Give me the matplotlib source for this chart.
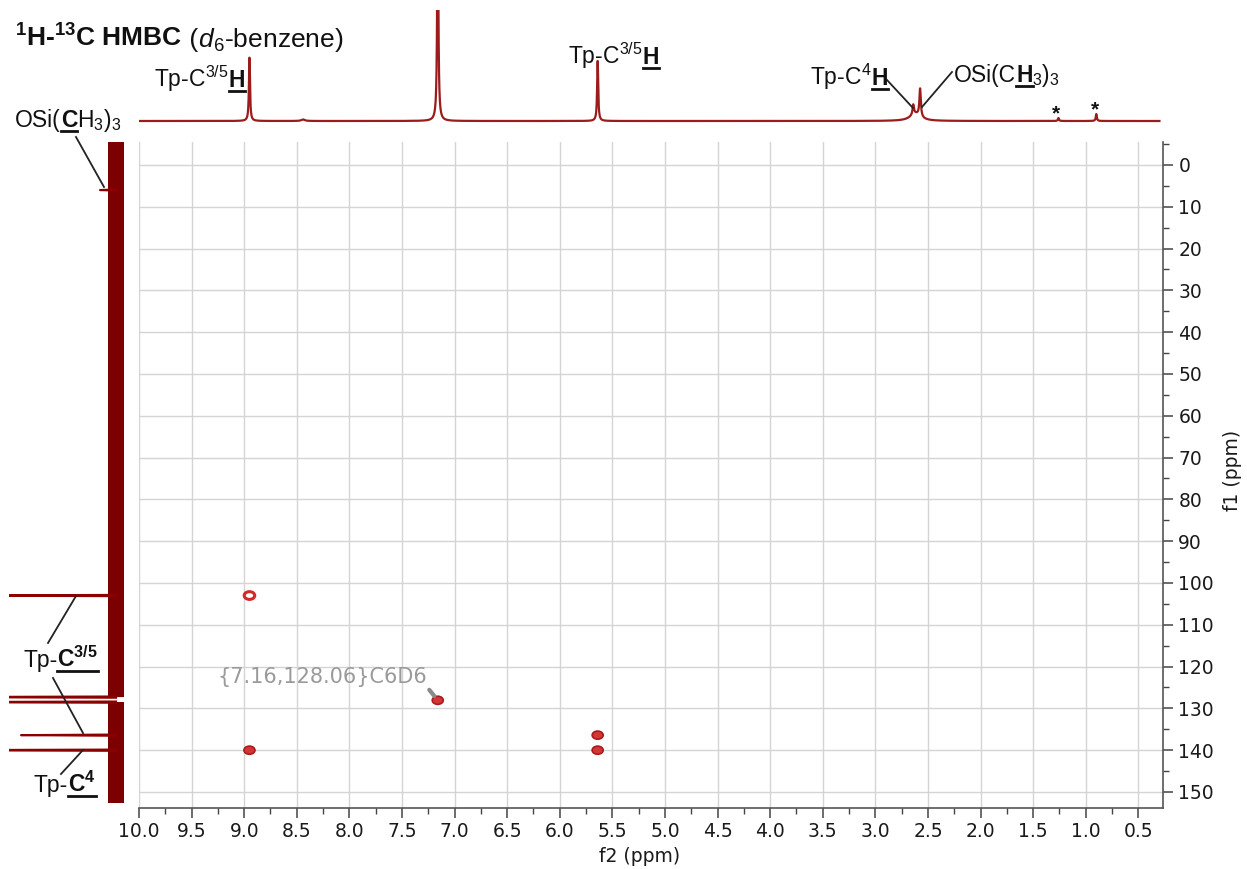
import numpy as np
import matplotlib
matplotlib.use('Agg')
import matplotlib.pyplot as plt
from matplotlib.lines import Line2D
from matplotlib.patches import Ellipse
from matplotlib.ticker import MultipleLocator, FormatStrFormatter

plt.rcParams['mathtext.default'] = 'regular'

W, H = 1247, 869

# 1H projection (top): peak position (ppm), height, half width (ppm)
h_ppm = [8.95, 8.44, 7.16, 5.64, 2.62, 2.64, 2.575, 1.26, 0.90]
h_height = [64, 1.5, 250, 61, 7, 10, 28, 3, 7]
h_width = [0.006, 0.02, 0.006, 0.006, 0.06, 0.008, 0.008, 0.006, 0.006]

# 13C projection (left): peak position (ppm), height
c_ppm = [6.0, 103.0, 127.3, 128.5, 136.4, 140.0]
c_height = [16, 200, 200, 200, 95, 200]

# HMBC cross peaks
cross_f2 = [8.95, 7.16, 5.64, 5.64, 8.95]
cross_f1 = [103.0, 128.06, 136.4, 140.0, 140.0]
cross_open = [True, False, False, False, False]

x_ticks_step = 0.5
y_ticks_step = 10

fig = plt.figure(figsize=(W / 100, H / 100), dpi=100)


def fx(x):
    return x / W


def fy(y):
    return 1 - y / H


# main 2D panel
ax = fig.add_axes([fx(139), fy(808), fx(1163) - fx(139), fy(142) - fy(808)])
ax.set_xlim(10.0, 0.266)
ax.set_ylim(153.83, -5.5)
ax.xaxis.set_major_locator(MultipleLocator(x_ticks_step))
ax.xaxis.set_minor_locator(MultipleLocator(x_ticks_step / 2))
ax.xaxis.set_major_formatter(FormatStrFormatter('%.1f'))
ax.yaxis.set_major_locator(MultipleLocator(y_ticks_step))
ax.yaxis.set_minor_locator(MultipleLocator(y_ticks_step / 2))
ax.yaxis.tick_right()
ax.tick_params(which='both', direction='out', color='#444444', labelsize=13.5, labelcolor='#1a1a1a')
ax.tick_params(which='major', length=7, width=1.1)
ax.tick_params(which='minor', length=4, width=1.0)
ax.tick_params(axis='x', pad=3)
ax.tick_params(axis='y', pad=4)
for s in ['top', 'left']:
    ax.spines[s].set_visible(False)
for s in ['right', 'bottom']:
    ax.spines[s].set_color('#555555')
    ax.spines[s].set_linewidth(1.2)
ax.set_axisbelow(True)
ax.grid(True, which='major', color='#d4d4d4', lw=1)

for f2, f1, op in zip(cross_f2, cross_f1, cross_open):
    if op:
        e = Ellipse((f2, f1), 0.1, 1.85, facecolor='white', edgecolor='#d02a2a', lw=2.2)
    else:
        e = Ellipse((f2, f1), 0.105, 1.95, facecolor='#d43535', edgecolor='#a81c1c', lw=1.2)
    ax.add_patch(e)

ax.annotate('{7.16,128.06}C6D6', xy=(cross_f2[1], cross_f1[1]), xytext=(7.262, 122.5),
            ha='right', va='center', fontsize=15, color='#9a9a9a',
            arrowprops=dict(arrowstyle='-', color='#8a8a8a', lw=3, relpos=(1, 0),
                            shrinkA=0, shrinkB=4))

fig.text(fx(640), fy(857), 'f2 (ppm)', ha='center', va='center', fontsize=13.5, color='#1a1a1a')
fig.text(fx(1233), fy(470), 'f1 (ppm)', ha='center', va='center', fontsize=13.5, color='#1a1a1a',
         rotation=90)

# top 1H trace
ax_top = fig.add_axes([fx(139), fy(128), fx(1163) - fx(139), fy(10) - fy(128)], sharex=ax)
ax_top.axis('off')
ax_top.set_ylim(-7, 111)
ppm = np.linspace(10.0, 0.30, 6000)
spec = np.zeros_like(ppm)
for p, h, w in zip(h_ppm, h_height, h_width):
    spec += h / (1 + ((ppm - p) / w) ** 2)
ax_top.plot(ppm, spec, color='#9c1c1c', lw=1.6)

# left 13C trace
ax_left = fig.add_axes([fx(9), fy(808), fx(136) - fx(9), fy(142) - fy(808)], sharey=ax)
ax_left.axis('off')
ax_left.set_xlim(107, -20)
yy = np.linspace(-5.5, 152.6, 3000)
mask = (yy < c_ppm[2]) | (yy > c_ppm[3])
ax_left.fill_betweenx(yy, -8, 8, where=mask, color='#7d0000', lw=0)
for p, h in zip(c_ppm, c_height):
    ax_left.plot([0, h, 0], [p - 0.15, p, p + 0.15], color='#8b0000', lw=1.5)
ax.set_ylim(153.83, -5.5)

renderer = fig.canvas.get_renderer()


def rich(x, y, parts, size=16.5):
    cx = x
    for part in parts:
        txt, weight, ul = part[0], part[1], part[2]
        style = 'italic' if weight == 'italic' else 'normal'
        wt = 'bold' if weight == 'bold' else 'normal'
        t = fig.text(fx(cx), fy(y), txt, fontsize=size, fontweight=wt, style=style,
                     family='Liberation Sans', ha='left', va='baseline', color='#111111')
        bb = t.get_window_extent(renderer)
        if ul:
            fig.add_artist(Line2D([bb.x0 / W, bb.x1 / W], [fy(y + 4)] * 2,
                                  transform=fig.transFigure, color='#111111', lw=2))
        cx += bb.width


rich(15, 47, [('$^1$H-$^{13}$C HMBC', 'bold', False), (' (', 'normal', False),
              ('d', 'italic', False), ('$_6$-benzene)', 'normal', False)], size=19)
rich(154, 87, [('Tp-C$^{3/5}$', 'normal', False), ('H', 'bold', True)])
rich(568, 64, [('Tp-C$^{3/5}$', 'normal', False), ('H', 'bold', True)])
rich(810, 85, [('Tp-C$^4$', 'normal', False), ('H', 'bold', True)])
rich(954, 82, [('OSi(C', 'normal', False), ('H', 'bold', True), ('$_3$)$_3$', 'normal', False)])
rich(15, 127, [('OSi(', 'normal', False), ('C', 'bold', True), ('H$_3$)$_3$', 'normal', False)])
rich(23, 667, [('Tp-', 'normal', False), ('C$^{3/5}$', 'bold', True)])
rich(34, 792, [('Tp-', 'normal', False), ('C$^4$', 'bold', True)])

leaders = [((887, 80), (913, 108)), ((952, 72), (922, 107)), ((76, 137), (104, 187)),
           ((48, 643), (76, 596)), ((53, 678), (83, 733)), ((61, 774), (83, 750))]
for (x0, y0), (x1, y1) in leaders:
    fig.add_artist(Line2D([fx(x0), fx(x1)], [fy(y0), fy(y1)], transform=fig.transFigure,
                          color='#222222', lw=1.3))

for sx, sy in [(1056, 114), (1095, 110)]:
    fig.text(fx(sx), fy(sy), '*', fontsize=15, fontweight='bold', ha='center', va='center',
             family='Liberation Sans', color='#111111')

fig.savefig('out.png', dpi=100)
